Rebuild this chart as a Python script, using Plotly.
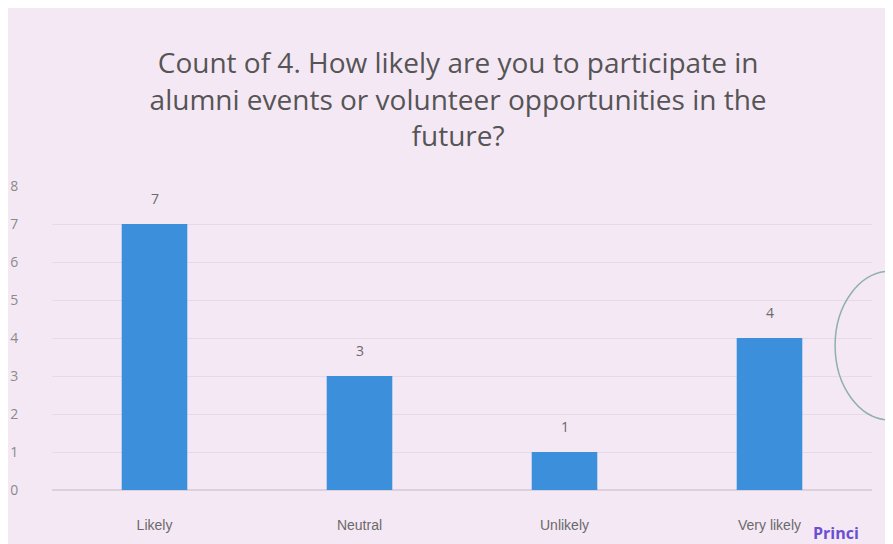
import plotly.graph_objects as go

categories = ["Likely", "Neutral", "Unlikely", "Very likely"]
counts = [7, 3, 1, 4]
y_ticks = [0, 1, 2, 3, 4, 5, 6, 7, 8]

bg = "#f5e8f5"
grey = "#6a6a6a"

fig = go.Figure(
    go.Bar(
        x=categories,
        y=counts,
        marker=dict(color="#3b8fdb", line=dict(width=0)),
        width=0.32,
    )
)

# value labels sit a bit higher above the bars than plotly's outside text
for cat, val in zip(categories, counts):
    fig.add_annotation(
        x=cat, y=val, text=str(val), showarrow=False,
        yanchor="bottom", yshift=14,
        font=dict(size=14, color=grey),
    )

# pen marks on the printed page
fig.add_shape(
    type="circle", xref="paper", yref="paper",
    x0=0.955, x1=1.09, y0=0.23, y1=0.72,
    line=dict(color="#8fb0ae", width=1.5),
)
fig.add_annotation(
    xref="paper", yref="paper", x=0.925, y=-0.185,
    text="<b>Princi</b>", showarrow=False, xanchor="left", yanchor="bottom",
    font=dict(size=16, color="#6a4fd0"),
)

fig.update_layout(
    width=893,
    height=544,
    paper_bgcolor=bg,
    plot_bgcolor=bg,
    font=dict(family="Open Sans, sans-serif", color=grey),
    showlegend=False,
    margin=dict(l=44, r=29, t=178, b=62),
    title=dict(
        text="Count of 4. How likely are you to participate in<br>"
        "alumni events or volunteer opportunities in the<br>future?",
        x=0.504,
        xanchor="center",
        y=0.88,
        yanchor="top",
        font=dict(size=28, color="#555555"),
    ),
)
fig.update_xaxes(
    showgrid=False,
    zeroline=False,
    showline=False,
    automargin=False,
    ticks="outside",
    ticklen=22,
    tickcolor="rgba(0,0,0,0)",
    tickfont=dict(size=14, color=grey, family="Liberation Sans Narrow, Arial Narrow, sans-serif"),
)
fig.update_yaxes(
    range=[0, 8],
    tickvals=y_ticks,
    showgrid=True,
    gridcolor="#e6dae8",
    zeroline=True,
    zerolinecolor="#ddd0de",
    automargin=False,
    ticks="outside",
    ticklen=30,
    tickcolor="rgba(0,0,0,0)",
    tickfont=dict(size=14, color="#8a8a8a"),
)

fig.write_html("out.html")
